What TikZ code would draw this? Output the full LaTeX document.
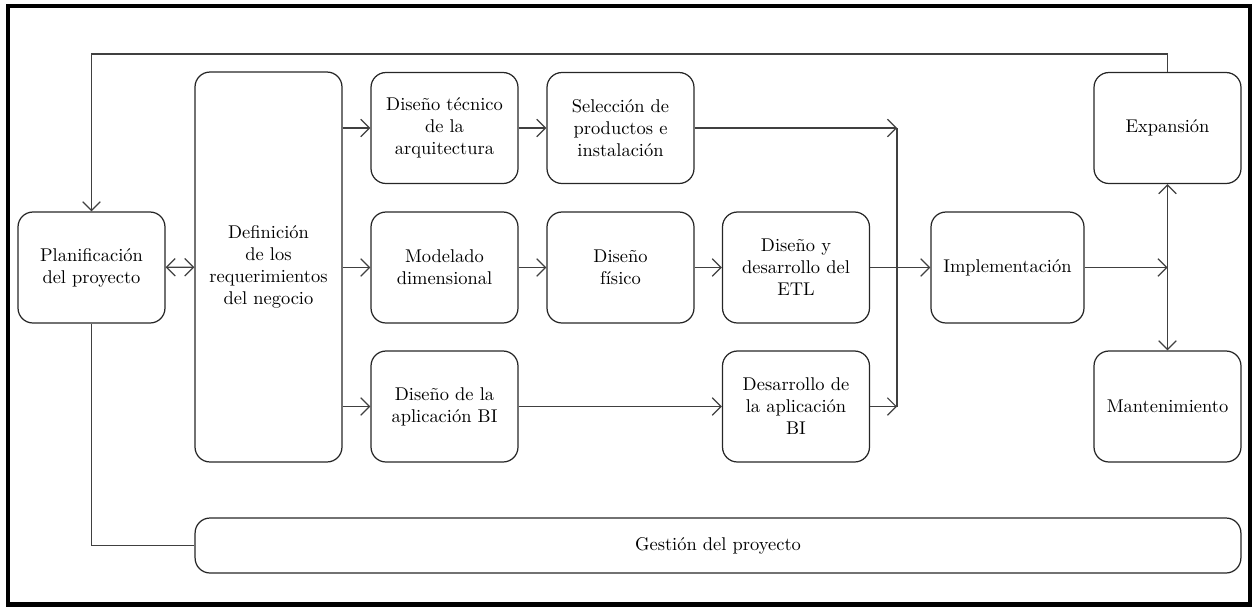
\documentclass[tikz,border=0pt]{standalone}
\usepackage{fontspec}
\usetikzlibrary{arrows.meta}

\tikzset{
	box/.style={draw=black!85, rounded corners=8.5pt, align=center,
		minimum width=2.94cm, minimum height=2.22cm, inner sep=2pt,
		font=\fontsize{10.5}{12.5}\selectfont},
}

\begin{document}
\begin{tikzpicture}[x=0.02cm, y=-0.02cm, line width=0.7pt, >={Straight Barb[length=5pt,width=10pt]}]
	\useasboundingbox (0,0) rectangle (1252,606);
	\draw[line width=2.3pt] (8,6) rectangle (1250,604.5);

	\node[box] (plan) at (91.5,267.5) {Planificación\\del proyecto};
	\node[box, minimum height=7.8cm] (req) at (268.5,267) {Definición\\de los\\requerimientos\\del negocio};
	\node[box] (arq) at (444.5,128) {Diseño técnico\\de la\\arquitectura};
	\node[box] (sel) at (620.5,128) {Selección de\\productos e\\instalación};
	\node[box] (mod) at (444.5,267.5) {Modelado\\dimensional};
	\node[box] (fis) at (620.5,267.5) {Diseño\\físico};
	\node[box] (etl) at (796,267.5) {Diseño y\\desarrollo del\\ETL};
	\node[box] (apl) at (444.5,406.5) {Diseño de la\\aplicación BI};
	\node[box] (dbi) at (796,406.5) {Desarrollo de\\la aplicación\\BI};
	\node[box, minimum width=3.06cm] (imp) at (1007.5,267.5) {Implementación};
	\node[box] (exp) at (1167.5,128) {Expansión};
	\node[box] (man) at (1167.5,406.5) {Mantenimiento};
	\node[box, minimum width=20.92cm, minimum height=1.1cm] (ges) at (718,545.5) {Gestión del proyecto};

	\coordinate (c1) at (897,128);
	\coordinate (c2) at (897,406.5);
	\coordinate (c3) at (1167.5,267.5);
	\coordinate (top) at (91.5,54);

	\begin{scope}[draw=black!75]
	\draw[<->] (plan) -- (req);
	\draw[->] (req.east |- arq) -- (arq);
	\draw[->] (req.east |- mod) -- (mod);
	\draw[->] (req.east |- apl) -- (apl);
	\draw[->] (arq) -- (sel);
	\draw[->] (mod) -- (fis);
	\draw[->] (fis) -- (etl);
	\draw[->] (apl) -- (dbi);
	\draw[->] (sel) -- (c1);
	\draw[->] (dbi) -- (c2);
	\draw (c1) -- (c2);
	\draw[->] (etl) -- (imp);
	\draw[->] (imp) -- (c3);
	\draw[<->] (exp) -- (man);
	\draw[->] (exp) |- (top) -- (plan);
	\draw (plan) |- (ges);
	\end{scope}
\end{tikzpicture}
\end{document}
